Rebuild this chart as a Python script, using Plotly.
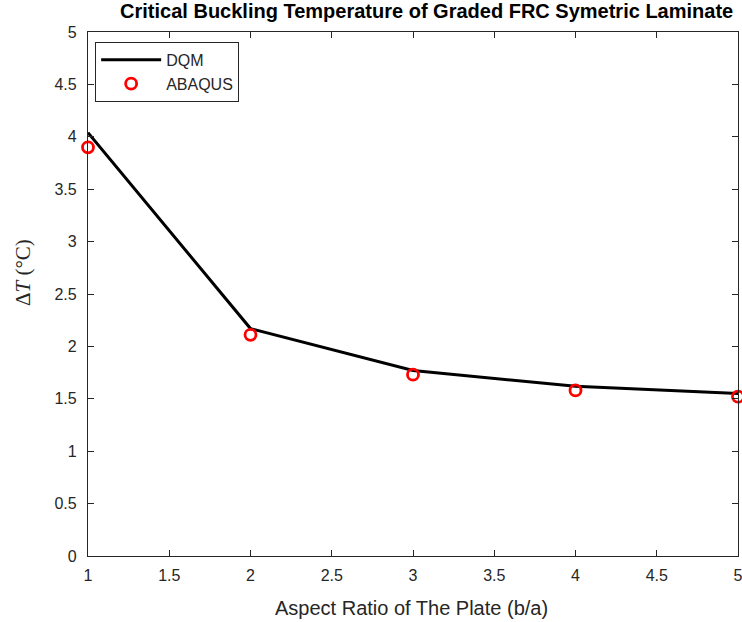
import plotly.graph_objects as go

aspect_ratio = [1, 2, 3, 4, 5]
dqm_temp = [4.04, 2.17, 1.77, 1.62, 1.55]
abaqus_temp = [3.90, 2.11, 1.73, 1.58, 1.52]

x_ticks = [1, 1.5, 2, 2.5, 3, 3.5, 4, 4.5, 5]
x_tick_text = ["1", "1.5", "2", "2.5", "3", "3.5", "4", "4.5", "5"]
y_ticks = [0, 0.5, 1, 1.5, 2, 2.5, 3, 3.5, 4, 4.5, 5]
y_tick_text = ["0", "0.5", "1", "1.5", "2", "2.5", "3", "3.5", "4", "4.5", "5"]

SANS = "Liberation Sans, Arial"
SERIF = "Liberation Serif, Times New Roman"
INK = "#262626"

fig = go.Figure()
fig.add_trace(go.Scatter(
    x=aspect_ratio, y=dqm_temp, mode="lines", name="DQM",
    line=dict(color="black", width=3), cliponaxis=False,
))
fig.add_trace(go.Scatter(
    x=aspect_ratio, y=abaqus_temp, mode="markers", name="ABAQUS",
    marker=dict(symbol="circle-open", color="#ff0000", size=11,
                line=dict(color="#ff0000", width=2.8)),
    cliponaxis=False,
))

axis_common = dict(
    showgrid=False, zeroline=False, showline=True, linecolor=INK,
    linewidth=1.2, mirror="ticks", ticks="inside", ticklen=6,
    tickcolor=INK, tickwidth=1, ticklabeloverflow="allow", automargin=False,
    tickfont=dict(family=SANS, size=16, color=INK),
)

fig.update_layout(
    width=742, height=622,
    margin=dict(l=88, r=4, t=32, b=66),
    paper_bgcolor="white", plot_bgcolor="white",
    title=dict(
        text="<b>Critical Buckling Temperature of Graded FRC Symetric Laminate</b>",
        font=dict(family=SANS, size=20, color="black"),
        x=0.575, xanchor="center", y=0.993, yanchor="top",
    ),
    xaxis=dict(range=[1, 5], tickvals=x_ticks, ticktext=x_tick_text,
               ticklabelstandoff=5, **axis_common),
    yaxis=dict(range=[0, 5], tickvals=y_ticks, ticktext=y_tick_text,
               ticklabelstandoff=7, **axis_common),
    legend=dict(
        x=0.011, y=0.981, xanchor="left", yanchor="top",
        bgcolor="white", bordercolor=INK, borderwidth=1,
        font=dict(family=SANS, size=16, color=INK),
        itemwidth=60, tracegroupgap=0,
    ),
    showlegend=True,
    annotations=[
        dict(text="Aspect Ratio of The Plate (b/a)", xref="paper", yref="paper",
             x=0.497, y=-0.099, xanchor="center", yanchor="middle",
             showarrow=False, font=dict(family=SANS, size=20, color=INK)),
        dict(text="Δ<i>T</i> (°C)", xref="paper", yref="paper",
             x=-0.1, y=0.54, xanchor="center", yanchor="middle",
             textangle=-90, showarrow=False,
             font=dict(family=SERIF, size=21, color=INK)),
    ],
)

fig.write_html("out.html")
